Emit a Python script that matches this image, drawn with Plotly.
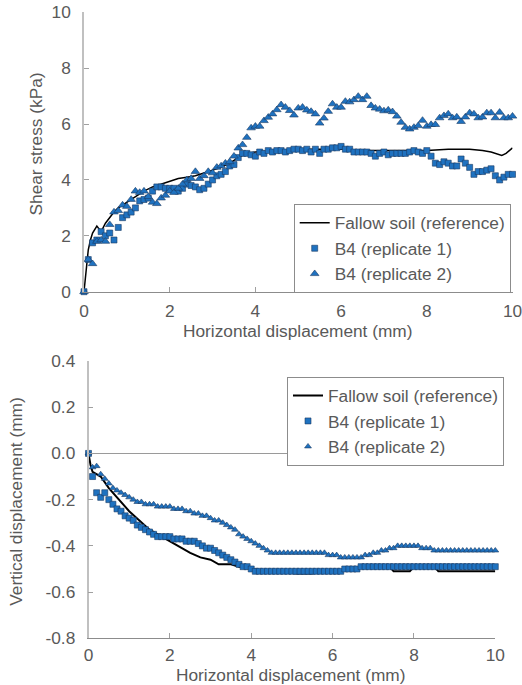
import plotly.graph_objects as go

# ---------------- data ----------------
# Shear stress (kPa) vs horizontal displacement (mm)
ref_shear_x = [0, 0.05, 0.1, 0.15, 0.2, 0.3, 0.4, 0.5, 0.6, 0.7, 0.8, 0.9, 1.0, 1.2, 1.4, 1.6, 1.8,
               2.0, 2.2, 2.4, 2.6, 2.8, 3.0, 3.2, 3.4, 3.6, 3.8, 4.0, 4.5, 5.0, 5.5, 6.0, 6.5, 7.0,
               7.5, 8.0, 8.5, 9.0, 9.3, 9.5, 9.75, 9.85, 10.0]
ref_shear_y = [0, 0.9, 1.5, 1.85, 2.1, 2.35, 2.15, 2.45, 2.65, 2.85, 3.0, 3.1, 3.2, 3.4, 3.6, 3.75, 3.85,
               3.95, 4.05, 4.1, 4.15, 4.25, 4.35, 4.45, 4.6, 4.8, 4.95, 5.0, 5.05, 5.1, 5.1, 5.1, 5.05, 5.05,
               5.05, 5.05, 5.1, 5.1, 5.05, 5.0, 4.88, 4.95, 5.15]

disp_x = [round(0.1 * i, 1) for i in range(101)]

rep1_shear = [0, 1.15, 1.75, 1.85, 2.15, 2.0, 2.1, 1.85, 2.3, 2.65,
              2.75, 2.85, 3.0, 3.25, 3.3, 3.35, 3.6, 3.75, 3.75, 3.7,
              3.7, 3.7, 3.6, 3.7, 3.85, 3.8, 3.75, 3.65, 3.7, 3.85,
              4.0, 4.15, 4.2, 4.3, 4.5, 4.55, 4.8, 4.95, 4.95, 4.9,
              4.85, 5.0, 4.95, 5.05, 5.0, 5.05, 5.05, 5.0, 5.05, 5.1,
              5.1, 5.05, 5.1, 5.0, 5.1, 4.95, 5.1, 5.1, 5.15, 5.15,
              5.2, 5.1, 5.1, 5.0, 5.0, 5.0, 5.0, 4.95, 4.85, 4.95,
              5.0, 4.9, 4.95, 4.95, 4.95, 4.95, 5.0, 5.05, 5.0, 4.95,
              5.05, 4.85, 4.6, 4.55, 4.65, 4.6, 4.5, 4.5, 4.75, 4.6,
              4.45, 4.2, 4.3, 4.3, 4.35, 4.4, 4.15, 4.0, 4.1, 4.2,
              4.2]

rep2_shear = [0, 1.15, 1.0, 1.8, 1.85, 1.8, 2.4, 2.85, 2.9, 3.1,
              3.05, 3.3, 3.6, 3.55, 3.6, 3.4, 3.2, 3.15, 3.35, 3.45,
              3.6, 3.55, 3.7, 3.85, 4.0, 4.05, 4.3, 4.05, 4.15, 4.3,
              4.25, 4.45, 4.5, 4.6, 4.65, 4.85, 5.14, 5.26, 5.52, 5.86,
              5.92, 5.92, 6.12, 6.24, 6.36, 6.51, 6.69, 6.6, 6.48, 6.32,
              6.57, 6.6, 6.5, 6.45, 6.36, 6.03, 6.21, 6.45, 6.72, 6.6,
              6.6, 6.81, 6.79, 6.87, 6.99, 6.87, 6.99, 6.66, 6.57, 6.53,
              6.47, 6.5, 6.44, 6.28, 6.06, 5.88, 5.82, 5.88, 5.94, 6.13,
              5.92, 5.98, 5.98, 6.22, 6.3, 6.36, 6.22, 6.25, 6.09, 6.25,
              6.4, 6.36, 6.22, 6.25, 6.4, 6.4, 6.22, 6.42, 6.22, 6.22,
              6.28]

# Vertical displacement (mm) vs horizontal displacement (mm)
ref_vert_x = [0, 0.05, 0.1, 0.3, 0.5, 0.7, 1.0, 1.5, 2.0, 2.5, 2.75, 3.0, 3.2, 3.5, 3.7, 4.0, 4.5,
              5.0, 5.1, 5.5, 5.6, 6.2, 6.3, 6.7, 7.4, 7.5, 7.9, 8.0, 8.5, 8.6, 10.0]
ref_vert_y = [0, -0.05, -0.08, -0.1, -0.15, -0.19, -0.25, -0.33, -0.38, -0.43, -0.45, -0.46, -0.48,
              -0.48, -0.49, -0.50, -0.51, -0.51, -0.52, -0.52, -0.51, -0.51, -0.50, -0.49, -0.49,
              -0.51, -0.51, -0.49, -0.49, -0.51, -0.51]

rep1_vert = [0, -0.10, -0.17, -0.19, -0.17, -0.20, -0.22, -0.24, -0.25, -0.27,
             -0.28, -0.29, -0.31, -0.32, -0.33, -0.34, -0.35, -0.36, -0.36, -0.36,
             -0.36, -0.37, -0.37, -0.37, -0.38, -0.38, -0.38, -0.39, -0.40, -0.41,
             -0.41, -0.42, -0.43, -0.44, -0.45, -0.46, -0.47, -0.48, -0.49, -0.49,
             -0.50, -0.51, -0.51, -0.51, -0.51, -0.51, -0.51, -0.51, -0.51, -0.51,
             -0.51, -0.51, -0.51, -0.51, -0.51, -0.51, -0.51, -0.51, -0.51, -0.51,
             -0.51, -0.51, -0.51, -0.50, -0.50, -0.50, -0.50, -0.49, -0.49, -0.49,
             -0.49, -0.49, -0.49, -0.49, -0.49, -0.49, -0.49, -0.49, -0.49, -0.49,
             -0.49, -0.49, -0.49, -0.49, -0.49, -0.49, -0.49, -0.49, -0.49, -0.49,
             -0.49, -0.49, -0.49, -0.49, -0.49, -0.49, -0.49, -0.49, -0.49, -0.49,
             -0.49]

rep2_vert = [0, -0.06, -0.055, -0.09, -0.11, -0.13, -0.15, -0.16, -0.17, -0.18,
             -0.19, -0.20, -0.21, -0.21, -0.22, -0.22, -0.22, -0.23, -0.23, -0.23,
             -0.23, -0.24, -0.24, -0.24, -0.25, -0.25, -0.26, -0.26, -0.27, -0.27,
             -0.28, -0.29, -0.29, -0.30, -0.31, -0.32, -0.33, -0.35, -0.36, -0.37,
             -0.38, -0.39, -0.40, -0.41, -0.42, -0.43, -0.43, -0.43, -0.43, -0.43,
             -0.43, -0.43, -0.43, -0.43, -0.43, -0.43, -0.43, -0.43, -0.43, -0.44,
             -0.44, -0.44, -0.45, -0.45, -0.45, -0.45, -0.45, -0.45, -0.44, -0.44,
             -0.43, -0.43, -0.42, -0.42, -0.41, -0.41, -0.40, -0.40, -0.40, -0.40,
             -0.40, -0.40, -0.41, -0.41, -0.41, -0.42, -0.42, -0.42, -0.42, -0.42,
             -0.42, -0.42, -0.42, -0.42, -0.42, -0.42, -0.42, -0.42, -0.42, -0.42,
             -0.42]

names = ["Fallow soil (reference)", "B4 (replicate 1)", "B4 (replicate 2)"]
x_title = "Horizontal displacement (mm)"
y_title_top = "Shear stress (kPa)"
y_title_bottom = "Vertical displacement (mm)"
x_ticks = [0, 2, 4, 6, 8, 10]
shear_ticks = [0, 2, 4, 6, 8, 10]
vert_ticks = [-0.8, -0.6, -0.4, -0.2, 0.0, 0.2, 0.4]
vert_tick_text = ["-0.8", "-0.6", "-0.4", "-0.2", "0.0", "0.2", "0.4"]

# ---------------- style ----------------
W, H = 522, 685
FONT = "Liberation Sans, Arial, sans-serif"
FS = 17.3
TXT = "#595959"
BLUE = "#1F72C0"
EDGE = "#1B3A63"

def px_x(p):
    return p / W

def px_y(p):
    return 1 - p / H

fig = go.Figure()

# top chart traces
fig.add_trace(go.Scatter(x=ref_shear_x, y=ref_shear_y, mode="lines", name=names[0],
                         line=dict(color="black", width=1.5), xaxis="x", yaxis="y", legend="legend"))
fig.add_trace(go.Scatter(x=disp_x, y=rep1_shear, mode="markers", name=names[1], cliponaxis=False,
                         marker=dict(symbol="square", size=6, color=BLUE, line=dict(color=EDGE, width=0.6)),
                         xaxis="x", yaxis="y", legend="legend"))
fig.add_trace(go.Scatter(x=disp_x, y=rep2_shear, mode="markers", name=names[2], cliponaxis=False,
                         marker=dict(symbol="triangle-up", size=7.5, color=BLUE, line=dict(color=EDGE, width=0.6)),
                         xaxis="x", yaxis="y", legend="legend"))

# bottom chart traces
fig.add_trace(go.Scatter(x=ref_vert_x, y=ref_vert_y, mode="lines", name=names[0],
                         line=dict(color="black", width=2), xaxis="x2", yaxis="y2", legend="legend2"))
fig.add_trace(go.Scatter(x=disp_x, y=rep1_vert, mode="markers", name=names[1], cliponaxis=False,
                         marker=dict(symbol="square", size=6, color=BLUE, line=dict(color=EDGE, width=0.6)),
                         xaxis="x2", yaxis="y2", legend="legend2"))
fig.add_trace(go.Scatter(x=disp_x, y=rep2_vert, mode="markers", name=names[2], cliponaxis=False,
                         marker=dict(symbol="triangle-up", size=6, color=BLUE, line=dict(color=EDGE, width=0.6)),
                         xaxis="x2", yaxis="y2", legend="legend2"))

axis_common = dict(showgrid=False, ticks="inside", tickcolor="#a0a0a0", ticklen=5,
                   tickfont=dict(family=FONT, size=FS, color=TXT), automargin=False,
                   ticklabeloverflow="allow")

legend_common = dict(font=dict(family=FONT, size=FS, color=TXT), bgcolor="white",
                     bordercolor="#8c8c8c", borderwidth=1, xanchor="right", yanchor="top",
                     tracegroupgap=0, itemwidth=30)

fig.update_layout(
    width=W, height=H, margin=dict(l=0, r=0, t=0, b=0),
    paper_bgcolor="white", plot_bgcolor="white", showlegend=True,
    xaxis=dict(domain=[px_x(84), px_x(512.5)], range=[0, 10], tickvals=x_ticks, anchor="y",
               showline=True, linecolor="#8c8c8c", linewidth=1, zeroline=False,
               ticklabelstandoff=4, **axis_common),
    yaxis=dict(domain=[px_y(291.7), px_y(12.3)], range=[0, 10], tickvals=shear_ticks, anchor="x",
               showline=True, linecolor="#c0c0c0", linewidth=1.5, zeroline=False,
               ticklabelstandoff=8, **axis_common),
    xaxis2=dict(domain=[px_x(88.5), px_x(495.3)], range=[0, 10], tickvals=x_ticks, anchor="y2",
                showline=True, linecolor="#8c8c8c", linewidth=1, zeroline=False,
                ticklabelstandoff=1, **axis_common),
    yaxis2=dict(domain=[px_y(638.3), px_y(361)], range=[-0.8, 0.4], tickvals=vert_ticks,
                ticktext=vert_tick_text, anchor="x2", showline=True, linecolor="#c0c0c0", linewidth=1.5,
                zeroline=True, zerolinecolor="#9a9a9a", zerolinewidth=1,
                ticklabelstandoff=8, **axis_common),
    legend=dict(x=px_x(510.7), y=px_y(204), **legend_common),
    legend2=dict(x=px_x(504), y=px_y(376.7), **legend_common),
    annotations=[
        dict(text=x_title, x=px_x(298), y=px_y(331), xref="paper", yref="paper", showarrow=False,
             font=dict(family=FONT, size=FS, color=TXT), xanchor="center", yanchor="middle"),
        dict(text=x_title, x=px_x(291), y=px_y(675), xref="paper", yref="paper", showarrow=False,
             font=dict(family=FONT, size=FS, color=TXT), xanchor="center", yanchor="middle"),
        dict(text=y_title_top, x=px_x(35), y=px_y(144.5), xref="paper", yref="paper", showarrow=False,
             textangle=-90, font=dict(family=FONT, size=FS, color=TXT), xanchor="center", yanchor="middle"),
        dict(text=y_title_bottom, x=px_x(16), y=px_y(501.7), xref="paper", yref="paper", showarrow=False,
             textangle=-90, font=dict(family=FONT, size=FS, color=TXT), xanchor="center", yanchor="middle"),
    ],
)

fig.write_html("out.html")
